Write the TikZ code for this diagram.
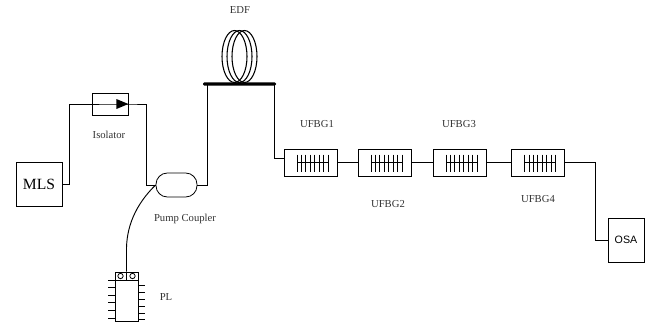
\documentclass[tikz,border=0pt]{standalone}
\usepackage{fontspec}
\setmainfont{Liberation Serif}
\newfontfamily\osafont{Liberation Sans}
\tikzset{
    box/.style={draw, inner sep=0pt},
    grating/.style={box, minimum width=39.75pt, minimum height=20.25pt},
    lbl/.style={font=\fontsize{8}{9.6}\selectfont, text=black!80, inner sep=0pt},
    fibre/.style={line width=0.7pt}
}
\begin{document}
\begin{tikzpicture}[x=0.75pt, y=-0.75pt, line width=0.6pt]
    \useasboundingbox (0,0) rectangle (646,322);

    % Source and isolator
    \node[box, minimum width=34.5pt, minimum height=33pt, font=\fontsize{11.7}{14}\selectfont] (mls) at (39,184) {MLS};
    \node[box, minimum width=27pt, minimum height=16.5pt] (isolator) at (110,104) {};
    \node[lbl] (isolatorlabel) at (109,135) {Isolator};
    \fill (isolator.east) -- ++(-12,-5) -- ++(0,10) -- cycle;

    % Coupler
    \node[box, minimum width=30.75pt, minimum height=18pt, rounded corners=8.5pt] (coupler) at (176.5,185) {};
    \node[lbl] (couplerlabel) at (185,219) {Pump Coupler};

    % EDF coil
    \node[fill, inner sep=0pt, minimum width=54.75pt, minimum height=2.4pt, rounded corners=1pt] (edfbar) at (239.5,84) {};
    \coordinate (edfin) at (207,84);
    \coordinate (edfout) at (274,84);
    \foreach \cx in {234.5,239.5,244.5}
        \draw[line width=0.8pt] (\cx,56.5) ellipse (12.5 and 26);
    \node[lbl] (edflabel) at (240,10) {EDF};

    % Gratings
    \node[grating] (ufbgone) at (310.5,162.5) {};
    \node[grating] (ufbgtwo) at (384.5,162.5) {};
    \node[grating] (ufbgthree) at (459.5,162.5) {};
    \node[grating] (ufbgfour) at (538,162.5) {};
    \foreach \name in {ufbgone,ufbgtwo,ufbgthree,ufbgfour} {
        \begin{scope}[shift={(\name.center)}]
            \draw (-13.5,0) -- (17.5,0);
            \foreach \i in {0,...,7}
                \draw (-13.5+4.43*\i,-8) -- (-13.5+4.43*\i,9);
        \end{scope}
    }
    \node[lbl] (ufbgonelabel) at (317,124) {UFBG1};
    \node[lbl] (ufbgtwolabel) at (388,204) {UFBG2};
    \node[lbl] (ufbgthreelabel) at (459,124) {UFBG3};
    \node[lbl] (ufbgfourlabel) at (538,199) {UFBG4};
    \coordinate (ufbgin) at (284,158);

    % Analyser
    \node[box, minimum width=27pt, minimum height=33pt, font=\osafont\fontsize{8}{10}\selectfont] (osa) at (626,240) {OSA};

    % Pump laser
    \node[box, minimum width=17.25pt, minimum height=6pt] (plhead) at (126.5,276) {};
    \node[box, minimum width=17.25pt, minimum height=30.75pt, anchor=north] (plbody) at (plhead.south) {};
    \draw (plhead.north) -- (plhead.south);
    \draw ([xshift=-4.5pt]plhead.center) circle (2pt);
    \draw ([xshift=4.5pt]plhead.center) circle (2pt);
    \foreach \py in {0,7.6,15.2,22.8,30.4,38}
        \draw (108,280+\py) -- (115,280+\py);
    \foreach \py in {0,7,14,21,28,34}
        \draw (138,285+\py) -- (145,285+\py);
    \node[lbl] (pllabel) at (166,297) {PL};

    % Fibres
    \draw[fibre] (mls.east) -- ++(7,0) |- (isolator.east) -- ++(18,0) |- (coupler.west);
    \draw[fibre] (coupler.east) -| (edfin);
    \draw[fibre] (edfout) |- (ufbgin);
    \draw[fibre] (ufbgone) -- (ufbgtwo);
    \draw[fibre] (ufbgtwo) -- (ufbgthree);
    \draw[fibre] (ufbgthree) -- (ufbgfour);
    \draw[fibre] (ufbgfour.east) -- ++(31,0) |- (osa.west);
    \draw[fibre] (plhead.north) -- ++(0,-20) .. controls (126,228) and (135,205) .. (coupler.west);
\end{tikzpicture}
\end{document}
